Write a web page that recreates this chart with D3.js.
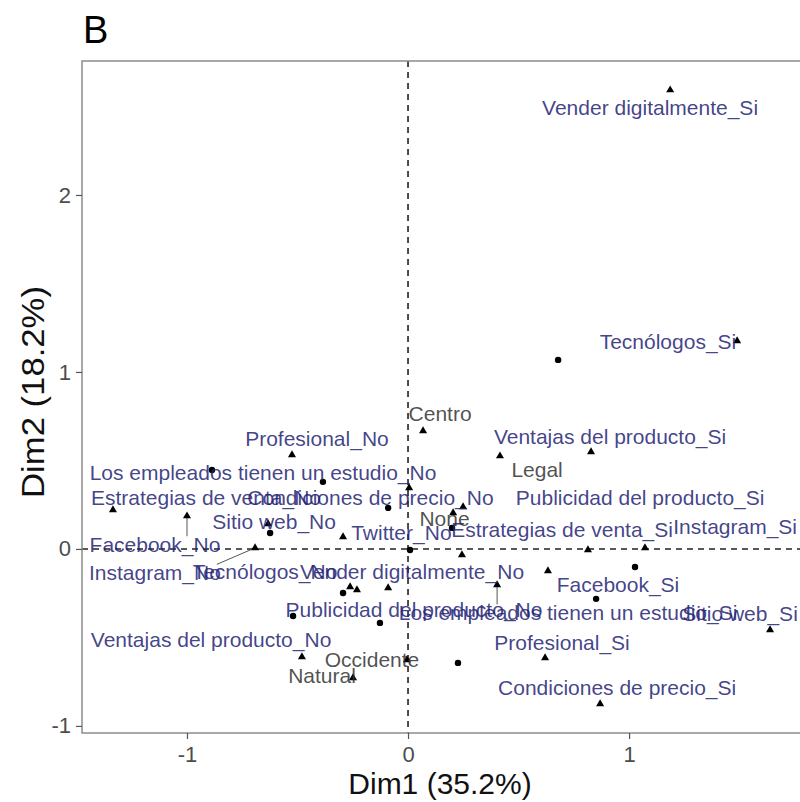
<!DOCTYPE html>
<html><head><meta charset="utf-8">
<script src="https://cdn.jsdelivr.net/npm/d3@7"></script>
<style>body{margin:0;background:#fff}svg{display:block}</style>
</head><body><div id="chart"></div>
<script>
// Variable categories (triangles) — MCA coordinates
const catNames = ["Vender digitalmente_Si","Tecnólogos_Si","Ventajas del producto_Si","Centro","Legal","Profesional_No",
 "Los empleados tienen un estudio_No","Estrategias de venta_No","Condiciones de precio_No","Publicidad del producto_Si",
 "Sitio web_No","Twitter_No","None","Estrategias de venta_Si","Instagram_Si","Facebook_No","Instagram_No","Tecnólogos_No",
 "Vender digitalmente_No","Facebook_Si","Publicidad del producto_No","Los empleados tienen un estudio_Si","Sitio web_Si",
 "Ventajas del producto_No","Profesional_Si","Occidente","Natural","Condiciones de precio_Si"];
const catDim1 = [1.186,1.489,0.828,0.068,0.416,-0.525,0.005,-1.335,0.249,0.814,-0.633,-0.294,0.204,0.244,1.072,-1.0,-0.692,-0.231,
 -0.09,0.633,-0.262,0.403,1.638,-0.48,0.62,-0.005,-0.249,0.869];
const catDim2 = [2.593,1.175,0.548,0.667,0.525,0.531,0.345,0.22,0.237,-0.006,0.141,0.068,0.203,-0.034,0.006,0.186,0.006,-0.232,
 -0.22,-0.124,-0.215,-0.203,-0.458,-0.61,-0.616,-0.627,-0.729,-0.876];
// repelled label anchors (label centres, data units)
const labDim1 = [1.095,1.176,0.914,0.145,0.584,-0.412,-0.656,-0.914,-0.17,1.05,-0.606,-0.03,0.165,0.697,1.48,-1.145,-1.145,-0.647,
 0.018,0.95,0.027,0.724,1.502,-0.891,0.697,-0.163,-0.389,0.946];
const labDim2 = [2.492,1.169,0.633,0.763,0.446,0.621,0.429,0.288,0.288,0.288,0.153,0.09,0.17,0.107,0.124,0.023,-0.136,-0.13,
 -0.13,-0.203,-0.345,-0.362,-0.367,-0.514,-0.531,-0.627,-0.718,-0.785];
const catSupp = [0,0,0,1,1,0,0,0,0,0,0,0,1,0,0,0,0,0,0,0,0,0,0,0,0,1,1,0];
const catSegment = [0,0,0,0,0,0,0,0,0,0,0,0,0,0,0,1,1,0,0,0,0,1,0,0,0,0,0,0];
// Individuals (dots)
const indDim1 = [0.679,-0.887,-0.385,-0.09,-0.624,0.199,0.009,1.027,0.851,0.226,-0.294,-0.127,-0.52];
const indDim2 = [1.068,0.446,0.379,0.232,0.09,0.119,-0.006,-0.102,-0.282,-0.644,-0.249,-0.418,-0.379];
const xTicks = [-1,0,1];
const yTicks = [-1,0,1,2];
const xTitle = "Dim1 (35.2%)", yTitle = "Dim2 (18.2%)", panelTag = "B";

const W = 800, H = 802;
const M = {left:82, top:61, right:805, bottom:733};
const x = d3.scaleLinear().domain([-1.475,1.796]).range([M.left, M.right]);
const y = d3.scaleLinear().domain([-1.04,2.757]).range([M.bottom, M.top]);
const FONT = "'Liberation Sans', Arial, sans-serif";

const svg = d3.select("#chart").append("svg").attr("width",W).attr("height",H)
  .style("font-family",FONT);

svg.append("text").attr("x",83).attr("y",43).text(panelTag)
  .attr("font-size",38).attr("fill","#000");

svg.append("clipPath").attr("id","clp").append("rect")
  .attr("x",M.left).attr("y",M.top).attr("width",M.right-M.left).attr("height",M.bottom-M.top);
const g = svg.append("g").attr("clip-path","url(#clp)");

// reference lines
g.append("line").attr("x1",x(0)).attr("x2",x(0)).attr("y1",M.top).attr("y2",M.bottom)
  .attr("stroke","#222").attr("stroke-width",1.6).attr("stroke-dasharray","6,5");
g.append("line").attr("x1",M.left).attr("x2",M.right).attr("y1",y(0)).attr("y2",y(0))
  .attr("stroke","#222").attr("stroke-width",1.6).attr("stroke-dasharray","6,5");

const cats = catNames.map((n,i)=>({n, x:catDim1[i], y:catDim2[i], lx:labDim1[i], ly:labDim2[i], s:catSupp[i], seg:catSegment[i]}));
const inds = indDim1.map((v,i)=>({x:v, y:indDim2[i]}));

const segG = g.append("g");

g.selectAll("circle.ind").data(inds).join("circle").attr("class","ind")
  .attr("cx",d=>x(d.x)).attr("cy",d=>y(d.y)).attr("r",3.2).attr("fill","#000");

const tri = d3.symbol().type(d3.symbolTriangle).size(28);
g.selectAll("path.cat").data(cats).join("path").attr("class","cat")
  .attr("transform",d=>`translate(${x(d.x)},${y(d.y)})`).attr("d",tri).attr("fill","#000");

const labG = svg.append("g");
const labs = labG.selectAll("text.lab").data(cats).join("text").attr("class","lab")
  .attr("x",d=>x(d.lx)).attr("y",d=>y(d.ly)).attr("dy","0.35em")
  .attr("text-anchor","middle").attr("font-size",21)
  .attr("fill",d=>d.s? "#333333":"#232375").attr("fill-opacity",0.85)
  .text(d=>d.n);

// segments from point to nearest edge of its label box
labs.each(function(d){
  if(!d.seg) return;
  const b = this.getBBox();
  const px = x(d.x), py = y(d.y);
  const ex = Math.max(b.x+4, Math.min(px, b.x+b.width-4));
  const ey = Math.max(b.y+3, Math.min(py, b.y+b.height-3));
  segG.append("line").attr("x1",px).attr("y1",py).attr("x2",ex).attr("y2",ey)
    .attr("stroke","#555").attr("stroke-width",1);
});

// panel border
svg.append("rect").attr("x",M.left).attr("y",M.top).attr("width",M.right-M.left).attr("height",M.bottom-M.top)
  .attr("fill","none").attr("stroke","#8c8c8c").attr("stroke-width",1.5);

// axes
const fmt = d => String(d);
const xa = svg.append("g").attr("transform",`translate(0,${M.bottom})`)
  .call(d3.axisBottom(x).tickValues(xTicks).tickSize(6).tickPadding(7).tickFormat(fmt));
const ya = svg.append("g").attr("transform",`translate(${M.left},0)`)
  .call(d3.axisLeft(y).tickValues(yTicks).tickSize(6).tickPadding(5).tickFormat(fmt));
[xa,ya].forEach(a=>{
  a.select(".domain").remove();
  a.selectAll(".tick line").attr("stroke","#555").attr("stroke-width",1.2);
  a.selectAll(".tick text").attr("fill","#4d4d4d").attr("font-size",22).attr("font-family",FONT);
});

svg.append("text").attr("x",440).attr("y",794).attr("text-anchor","middle")
  .attr("font-size",30).attr("fill","#111").text(xTitle);
svg.append("text").attr("transform",`translate(44,392) rotate(-90)`).attr("text-anchor","middle")
  .attr("font-size",32).attr("textLength",212).attr("lengthAdjust","spacingAndGlyphs")
  .attr("fill","#111").text(yTitle);
</script></body></html>
